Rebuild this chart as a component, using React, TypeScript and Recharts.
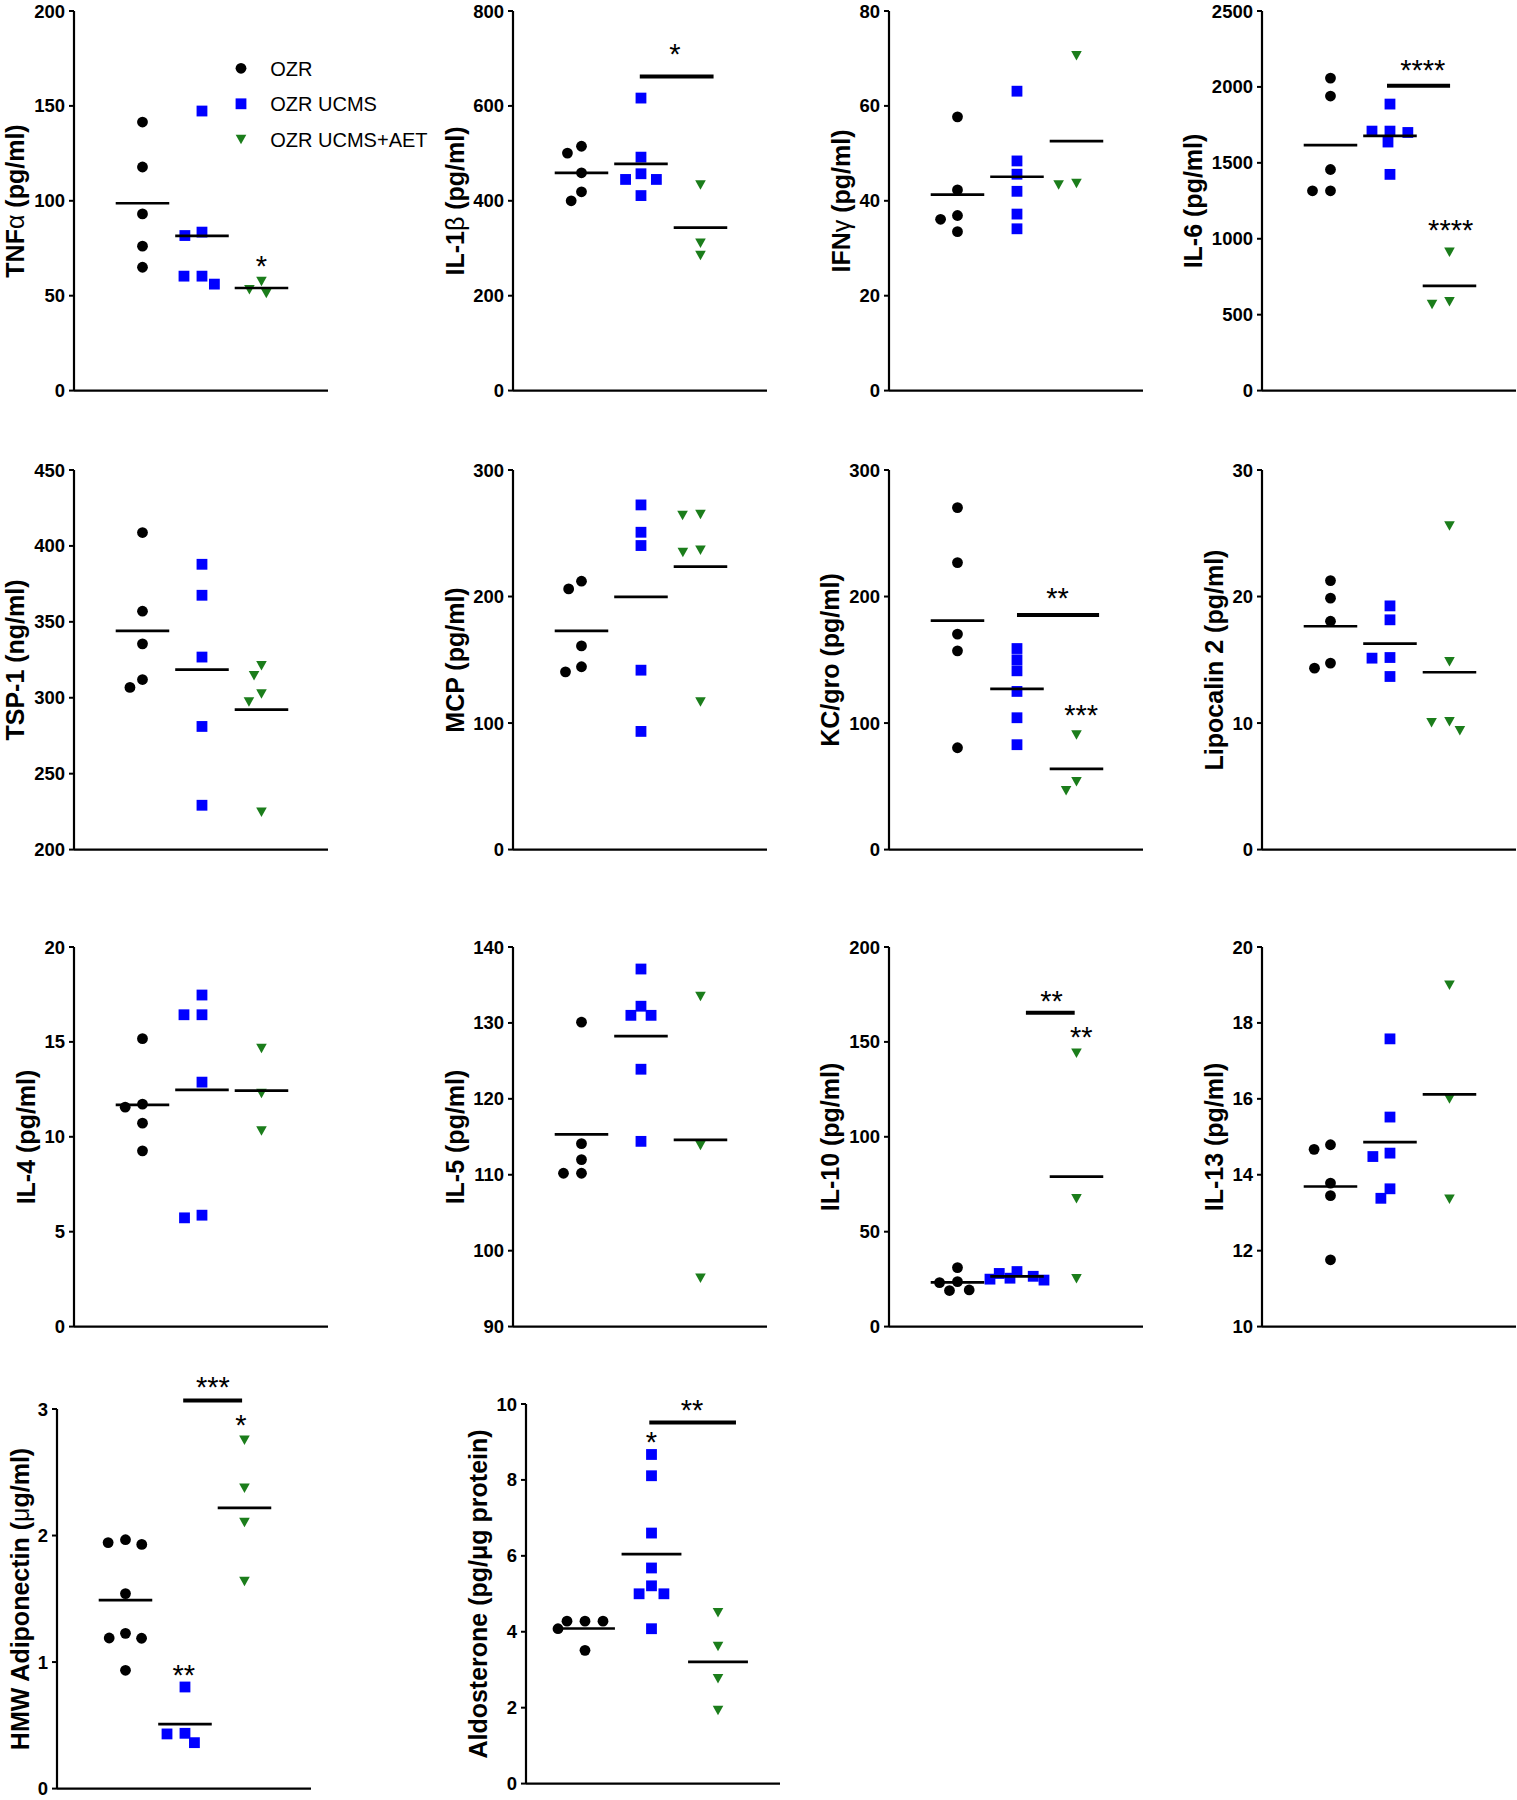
import React from "react";
import { Legend, ReferenceDot, ReferenceLine, Scatter, ScatterChart, XAxis, YAxis } from "recharts";

const FONT = '"Liberation Sans", Arial, Helvetica, sans-serif';
const groups = ["OZR", "OZR UCMS", "OZR UCMS+AET"];
const COLORS = ["#000000", "#0000ff", "#1b7d1b"];

// TNFα
const tnfTicks = [0, 50, 100, 150, 200];
const tnfOzr = [141.5, 117.8, 93.1, 76.1, 65.0];
const tnfUcms = [147.3, 83.5, 81.7, 60.3, 60.3, 56.1];
const tnfAet = [57.6, 53.3, 51.3];
const tnfStars = [{ x: 3, y: 69.4, text: "*" }];

// IL-1β
const il1bTicks = [0, 200, 400, 600, 800];
const il1bOzr = [515, 500.5, 459, 419, 400];
const il1bUcms = [616.5, 492, 457, 445, 445, 411];
const il1bAet = [434, 311, 285];
const il1bBars = [{ from: 1.98, to: 3.22, y: 662 }];
const il1bStars = [{ x: 2.57, y: 724, text: "*" }];

// IFNγ
const ifnTicks = [0, 20, 40, 60, 80];
const ifnOzr = [57.7, 42.3, 36.9, 36.1, 33.5];
const ifnUcms = [63.1, 48.4, 45.6, 42.0, 37.2, 34.1];
const ifnAet = [70.6, 43.4, 43.7];

// IL-6
const il6Ticks = [0, 500, 1000, 1500, 2000, 2500];
const il6Ozr = [2058, 1940, 1456, 1316, 1316];
const il6Ucms = [1887, 1709, 1709, 1700, 1637, 1424];
const il6Aet = [912, 587, 569];
const il6Bars = [{ from: 1.95, to: 3.01, y: 2008 }];
const il6Stars = [
  { x: 2.55, y: 2160, text: "****" },
  { x: 3.02, y: 1103, text: "****" },
];

// TSP-1
const tspTicks = [200, 250, 300, 350, 400, 450];
const tspOzr = [408.8, 357, 335.5, 312, 306.8];
const tspUcms = [387.9, 367.5, 326.8, 281.1, 229.2];
const tspAet = [321.3, 314.7, 302.6, 297.4, 224.8];

// MCP
const mcpTicks = [0, 100, 200, 300];
const mcpOzr = [212.1, 206, 161, 144.5, 140.5];
const mcpUcms = [272.4, 250.8, 240.3, 141.8, 93.4];
const mcpAet = [265, 264.2, 236.8, 235, 116.8];

// KC/gro
const kcTicks = [0, 100, 200, 300];
const kcOzr = [270.3, 226.8, 170.3, 157.1, 80.5];
const kcUcms = [158.9, 150, 141.3, 125, 104.2, 82.9];
const kcAet = [90.8, 53.9, 46.8];
const kcBars = [{ from: 2.0, to: 3.38, y: 185.5 }];
const kcStars = [
  { x: 2.68, y: 204, text: "**" },
  { x: 3.08, y: 111.8, text: "***" },
];

// Lipocalin 2
const lcnTicks = [0, 10, 20, 30];
const lcnOzr = [21.26, 19.87, 18.05, 14.74, 14.34];
const lcnUcms = [19.26, 18.16, 15.18, 15.13, 13.68];
const lcnAet = [25.6, 14.87, 10.13, 10.05, 9.42];

// IL-4
const il4Ticks = [0, 5, 10, 15, 20];
const il4Ozr = [15.17, 11.72, 11.56, 10.72, 9.26];
const il4Ucms = [17.47, 16.43, 16.43, 12.88, 5.87, 5.73];
const il4Aet = [14.67, 12.3, 10.32];

// IL-5
const il5Ticks = [90, 100, 110, 120, 130, 140];
const il5Ozr = [130.1, 114.1, 112.0, 110.2, 110.2];
const il5Ucms = [137.1, 132.2, 131.0, 131.0, 123.9, 114.4];
const il5Aet = [133.5, 113.9, 96.4];

// IL-10
const il10Ticks = [0, 50, 100, 150, 200];
const il10Ozr = [31.1, 23.7, 23.2, 19.3, 19.0];
const il10Ucms = [29, 28, 26.5, 25.5, 25, 24.5];
const il10Aet = [144.1, 67.5, 25.3];
const il10Bars = [{ from: 2.15, to: 2.97, y: 165.4 }];
const il10Stars = [
  { x: 2.58, y: 175.2, text: "**" },
  { x: 3.08, y: 156.4, text: "**" },
];

// IL-13
const il13Ticks = [10, 12, 14, 16, 18, 20];
const il13Ozr = [14.79, 14.67, 13.78, 13.45, 11.76];
const il13Ucms = [17.58, 15.52, 14.57, 14.48, 13.63, 13.38];
const il13Aet = [19.0, 16.0, 13.36];

// HMW Adiponectin
const hmwTicks = [0, 1, 2, 3];
const hmwOzr = [1.967, 1.944, 1.93, 1.541, 1.227, 1.19, 1.188, 0.935];
const hmwUcms = [0.803, 0.437, 0.432, 0.363];
const hmwAet = [2.755, 2.376, 2.104, 1.638];
const hmwBars = [{ from: 1.97, to: 2.96, y: 3.068 }];
const hmwStars = [
  { x: 2.47, y: 3.23, text: "***" },
  { x: 2.94, y: 2.93, text: "*" },
  { x: 1.98, y: 0.953, text: "**" },
];

// Aldosterone
const aldoTicks = [0, 2, 4, 6, 8, 10];
const aldoOzr = [4.28, 4.28, 4.28, 4.08, 3.51];
const aldoUcms = [8.67, 8.11, 6.6, 5.68, 5.21, 5.0, 5.0, 4.08];
const aldoAet = [4.51, 3.62, 2.77, 1.93];
const aldoBars = [{ from: 1.967, to: 3.27, y: 9.51 }];
const aldoStars = [
  { x: 2.61, y: 10.03, text: "**" },
  { x: 2.0, y: 9.18, text: "*" },
];

type Bar = { from: number; to: number; y: number };
type Star = { x: number; y: number; text: string };
type PanelDef = {
  key: string;
  label: React.ReactNode;
  left: number;
  top: number;
  ticks: number[];
  series: number[][];
  bars?: Bar[];
  stars?: Star[];
  xDomain?: [number, number];
  legend?: boolean;
};

const PLOT_W = 254;
const PLOT_H = 379.6;
const AXIS_W = 100;
const M_TOP = 60;
const M_RIGHT = 20;
const X_H = 12;
const STD_X: [number, number] = [-0.151, 4.118];
const NARROW_X: [number, number] = [0.113, 3.932];

const COLS = [73.5, 513, 888.5, 1261.5];
const ROWS = [10.8, 470, 947.3];

const g = (s: string) => <span style={{ fontWeight: 400 }}>{s}</span>;

const panels: PanelDef[] = [
  { key: "tnf", label: <>TNF{g("α")} (pg/ml)</>, left: COLS[0], top: ROWS[0], ticks: tnfTicks, series: [tnfOzr, tnfUcms, tnfAet], stars: tnfStars, legend: true },
  { key: "il1b", label: <>IL-1{g("β")} (pg/ml)</>, left: COLS[1], top: ROWS[0], ticks: il1bTicks, series: [il1bOzr, il1bUcms, il1bAet], bars: il1bBars, stars: il1bStars },
  { key: "ifn", label: <>IFN{g("γ")} (pg/ml)</>, left: COLS[2], top: ROWS[0], ticks: ifnTicks, series: [ifnOzr, ifnUcms, ifnAet] },
  { key: "il6", label: "IL-6 (pg/ml)", left: COLS[3], top: ROWS[0], ticks: il6Ticks, series: [il6Ozr, il6Ucms, il6Aet], bars: il6Bars, stars: il6Stars },
  { key: "tsp", label: "TSP-1 (ng/ml)", left: COLS[0], top: ROWS[1], ticks: tspTicks, series: [tspOzr, tspUcms, tspAet] },
  { key: "mcp", label: "MCP (pg/ml)", left: COLS[1], top: ROWS[1], ticks: mcpTicks, series: [mcpOzr, mcpUcms, mcpAet] },
  { key: "kc", label: "KC/gro (pg/ml)", left: COLS[2], top: ROWS[1], ticks: kcTicks, series: [kcOzr, kcUcms, kcAet], bars: kcBars, stars: kcStars },
  { key: "lcn", label: "Lipocalin 2 (pg/ml)", left: COLS[3], top: ROWS[1], ticks: lcnTicks, series: [lcnOzr, lcnUcms, lcnAet] },
  { key: "il4", label: "IL-4 (pg/ml)", left: COLS[0], top: ROWS[2], ticks: il4Ticks, series: [il4Ozr, il4Ucms, il4Aet] },
  { key: "il5", label: "IL-5 (pg/ml)", left: COLS[1], top: ROWS[2], ticks: il5Ticks, series: [il5Ozr, il5Ucms, il5Aet] },
  { key: "il10", label: "IL-10 (pg/ml)", left: COLS[2], top: ROWS[2], ticks: il10Ticks, series: [il10Ozr, il10Ucms, il10Aet], bars: il10Bars, stars: il10Stars },
  { key: "il13", label: "IL-13 (pg/ml)", left: COLS[3], top: ROWS[2], ticks: il13Ticks, series: [il13Ozr, il13Ucms, il13Aet] },
  { key: "hmw", label: <>HMW Adiponectin ({g("μ")}g/ml)</>, left: 57.2, top: 1409.3, ticks: hmwTicks, series: [hmwOzr, hmwUcms, hmwAet], bars: hmwBars, stars: hmwStars },
  { key: "aldo", label: "Aldosterone (pg/μg protein)", left: 526, top: 1404, ticks: aldoTicks, series: [aldoOzr, aldoUcms, aldoAet], bars: aldoBars, stars: aldoStars, xDomain: NARROW_X },
];

// beeswarm-style horizontal spread (pixels) so overlapping points sit side by side,
// kept within +-cap px of the group centre (points may overlap a bit when crowded)
function swarm(values: number[], pxPerY: number, dx = 18, dy = 11, cap = 27): number[] {
  const order = values.map((_, i) => i).sort((a, b) => values[b] - values[a]);
  const placed: { x: number; y: number }[] = [];
  const out = new Array(values.length).fill(0);
  const dist = (x: number, y: number) =>
    placed.reduce((m, p) => Math.min(m, ((p.x - x) / dx) ** 2 + ((p.y - y) / dy) ** 2), Infinity);
  for (const i of order) {
    const y = values[i] * pxPerY;
    const cands = [0];
    for (const p of placed) {
      const d = Math.abs(p.y - y);
      if (d < dy) {
        const w = dx * Math.sqrt(1 - (d / dy) ** 2);
        cands.push(p.x - w, p.x + w);
      }
    }
    const inCap = cands.filter((c) => Math.abs(c) <= cap).sort((a, b) => Math.abs(a) - Math.abs(b) || a - b);
    let x = inCap.find((c) => dist(c, y) >= 0.999);
    if (x === undefined) {
      let best = 0;
      let bestD = -1;
      for (let c = -cap; c <= cap; c += 1) {
        const d = dist(c, y);
        if (d > bestD + 1e-6) {
          bestD = d;
          best = c;
        }
      }
      x = best;
    }
    placed.push({ x, y });
    out[i] = x;
  }
  return out;
}

function Marker({ g, cx, cy }: { g: number; cx: number; cy: number }) {
  if (g === 0) return <circle cx={cx} cy={cy} r={5.4} fill={COLORS[0]} />;
  if (g === 1) return <rect x={cx - 5.4} y={cy - 5.4} width={10.8} height={10.8} fill={COLORS[1]} />;
  return <polygon points={`${cx - 5.3},${cy - 4.5} ${cx + 5.3},${cy - 4.5} ${cx},${cy + 5}`} fill={COLORS[2]} />;
}

function LegendBox() {
  return (
    <svg width={200} height={110} style={{ display: "block" }}>
      {groups.map((name, i) => (
        <g key={name}>
          <Marker g={i} cx={12} cy={16.3 + 35.5 * i} />
          <text x={41.3} y={16.3 + 35.5 * i + 7.3} fontSize={20} fontFamily={FONT} fill="#000">
            {name}
          </text>
        </g>
      ))}
    </svg>
  );
}

function Panel({ p }: { p: PanelDef }) {
  const ymin = p.ticks[0];
  const ymax = p.ticks[p.ticks.length - 1];
  const [xmin, xmax] = p.xDomain ?? STD_X;
  const unitPx = PLOT_W / (xmax - xmin);
  const pxPerY = PLOT_H / (ymax - ymin);
  const half = 0.45 * unitPx;

  const pointData = p.series.map((vals, gi) => {
    const offs = swarm(vals, pxPerY);
    return vals.map((v, i) => ({ x: gi + 1 + offs[i] / unitPx, y: v }));
  });
  const means = p.series.map((vals, gi) => ({ x: gi + 1, y: vals.reduce((a, b) => a + b, 0) / vals.length }));

  const maxChars = Math.max(...p.ticks.map((t) => String(t).length));
  const labelCx = p.left - (27 + 10.5 * maxChars);
  const chartLeft = p.left - AXIS_W;
  const chartTop = p.top - M_TOP;

  return (
    <>
      <div style={{ position: "absolute", left: chartLeft, top: chartTop }}>
        <ScatterChart
          width={AXIS_W + PLOT_W + M_RIGHT}
          height={M_TOP + PLOT_H + X_H}
          margin={{ top: M_TOP, right: M_RIGHT, bottom: 0, left: 0 }}
        >
          <XAxis
            type="number"
            dataKey="x"
            domain={[xmin, xmax]}
            tick={false}
            tickLine={false}
            axisLine={{ stroke: "#000", strokeWidth: 2.2 }}
            height={X_H}
          />
          <YAxis
            type="number"
            dataKey="y"
            domain={[ymin, ymax]}
            ticks={p.ticks}
            interval={0}
            width={AXIS_W}
            tickSize={5}
            tickMargin={4}
            tickLine={{ stroke: "#000", strokeWidth: 2 }}
            axisLine={{ stroke: "#000", strokeWidth: 2.2 }}
            tick={{ fill: "#000", fontSize: 18.5, fontWeight: 700, fontFamily: FONT }}
          />
          {pointData.map((data, gi) => (
            <Scatter
              key={groups[gi]}
              name={groups[gi]}
              data={data}
              isAnimationActive={false}
              shape={(s: any) => <Marker g={gi} cx={s.cx} cy={s.cy} />}
            />
          ))}
          <Scatter
            name="mean"
            data={means}
            isAnimationActive={false}
            legendType="none"
            shape={(s: any) => (
              <line x1={s.cx - half} x2={s.cx + half} y1={s.cy} y2={s.cy} stroke="#000" strokeWidth={2.7} />
            )}
          />
          {(p.bars ?? []).map((b, i) => (
            <ReferenceLine
              key={`bar${i}`}
              segment={[
                { x: b.from, y: b.y },
                { x: b.to, y: b.y },
              ]}
              stroke="#000"
              strokeWidth={4}
              ifOverflow="visible"
            />
          ))}
          {(p.stars ?? []).map((st, i) => (
            <ReferenceDot
              key={`star${i}`}
              x={st.x}
              y={st.y}
              r={0}
              ifOverflow="visible"
              shape={(s: any) => (
                <text x={s.cx} y={s.cy + 17} textAnchor="middle" fontSize={29} fontFamily={FONT} fill="#000">
                  {st.text}
                </text>
              )}
            />
          ))}
          {p.legend && (
            <Legend
              layout="vertical"
              align="center"
              verticalAlign="middle"
              wrapperStyle={{ left: 228.7 - chartLeft, top: 52 - chartTop, width: 200, height: 110 }}
              content={() => <LegendBox />}
            />
          )}
        </ScatterChart>
      </div>
      <div
        style={{
          position: "absolute",
          left: labelCx,
          top: p.top + PLOT_H / 2,
          transform: "translate(-50%, -50%) rotate(-90deg)",
          whiteSpace: "nowrap",
          fontFamily: FONT,
          fontWeight: 700,
          fontSize: 25,
          lineHeight: 1,
          color: "#000",
        }}
      >
        {p.label}
      </div>
    </>
  );
}

export default function App() {
  return (
    <div style={{ position: "relative", width: 1517, height: 1800, background: "#fff", overflow: "hidden" }}>
      <style>{`body{margin:0;background:#fff}`}</style>
      {panels.map((p) => (
        <Panel key={p.key} p={p} />
      ))}
    </div>
  );
}
